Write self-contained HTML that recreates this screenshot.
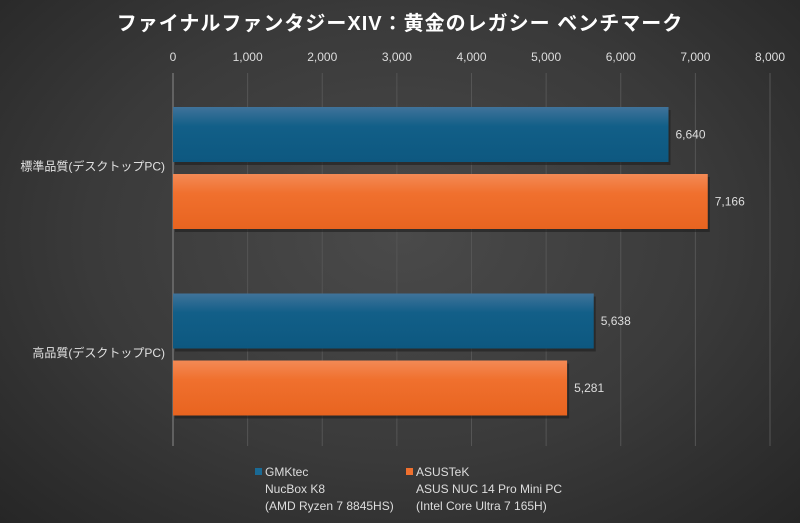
<!DOCTYPE html>
<html><head><meta charset="utf-8"><style>
html,body{margin:0;padding:0}
body{width:800px;height:523px;overflow:hidden;background:radial-gradient(ellipse at 50% 45%,#4a4a4a 0%,#3a3a3a 55%,#262626 100%);font-family:"Liberation Sans","Noto Sans CJK JP",sans-serif}
</style></head><body>
<svg id="chart" width="800" height="523" xmlns="http://www.w3.org/2000/svg" style="position:absolute;left:0;top:0">
<defs>
<linearGradient id="gb" x1="0" y1="0" x2="0" y2="1"><stop offset="0" stop-color="#40739a"/><stop offset="0.35" stop-color="#125f88"/><stop offset="1" stop-color="#0d5880"/></linearGradient>
<linearGradient id="go" x1="0" y1="0" x2="0" y2="1"><stop offset="0" stop-color="#f38a55"/><stop offset="0.35" stop-color="#f0702e"/><stop offset="1" stop-color="#e86420"/></linearGradient>
</defs>
<text x="400" y="30" text-anchor="middle" fill="#fff" font-size="20" font-weight="bold" letter-spacing="1">ファイナルファンタジーXIV：黄金のレガシー ベンチマーク</text>
<g id="grid"></g><g id="bars"></g>
<g font-size="12" fill="#ddd">
<rect x="255" y="468" width="7" height="7" fill="#1a6a95"/>
<text x="265" y="476"><tspan x="265">GMKtec</tspan><tspan x="265" dy="17">NucBox K8</tspan><tspan x="265" dy="17">(AMD Ryzen 7 8845HS)</tspan></text>
<rect x="406" y="468" width="7" height="7" fill="#f0702e"/>
<text x="416" y="476"><tspan x="416">ASUSTeK</tspan><tspan x="416" dy="17">ASUS NUC 14 Pro Mini PC</tspan><tspan x="416" dy="17">(Intel Core Ultra 7 165H)</tspan></text>
</g>
</svg>
<script>
const categories=["標準品質(デスクトップPC)","高品質(デスクトップPC)"];
const gmktec=[6640,5638];
const asus=[7166,5281];
const ticks=[0,1000,2000,3000,4000,5000,6000,7000,8000];
const tickLabels=["0","1,000","2,000","3,000","4,000","5,000","6,000","7,000","8,000"];
const NS="http://www.w3.org/2000/svg";
const x0=173,x1=770,yTop=73,yBot=446,xMax=8000;
const xs=v=>x0+(x1-x0)*v/xMax;
const bandH=(yBot-yTop)/categories.length;
function mk(t,a,p){const e=document.createElementNS(NS,t);for(const k in a)e.setAttribute(k,a[k]);p.appendChild(e);return e;}
const grid=document.getElementById('grid'),bars=document.getElementById('bars');
ticks.forEach((t,i)=>{
 const l=mk('line',{x1:xs(t),x2:xs(t),y1:yTop,y2:yBot,stroke:t===0?'#8a8a8a':'#555','stroke-width':1},grid);
 
 
 const tx=mk('text',{x:xs(t),y:61,'text-anchor':'middle',fill:'#ddd','font-size':12},grid);
 tx.textContent=tickLabels[i];
 
 
});
const barH=55;
categories.forEach((c,i)=>{
 const b=yTop+bandH*i;
 const ct=mk('text',{x:165,y:b+bandH/2+4,'text-anchor':'end',fill:'#e0e0e0','font-size':12},grid);
 ct.textContent=c;
 
 
 [[gmktec[i],'url(#gb)',b+34],[asus[i],'url(#go)',b+101]].forEach(([v,f,y],j)=>{
  mk('rect',{x:x0+2,y:y+3,width:xs(v)-x0,height:barH,fill:'#1e1e1e',opacity:0.6},bars);
  const r=mk('rect',{x:x0,y:y,width:xs(v)-x0,height:barH,fill:f},bars);
  
  
  const vt=mk('text',{x:xs(v)+7,y:y+barH/2+4,fill:'#ddd','font-size':12},bars);
  vt.textContent=v.toLocaleString('en-US');
  
  
 });
});
</script>
</body></html>
